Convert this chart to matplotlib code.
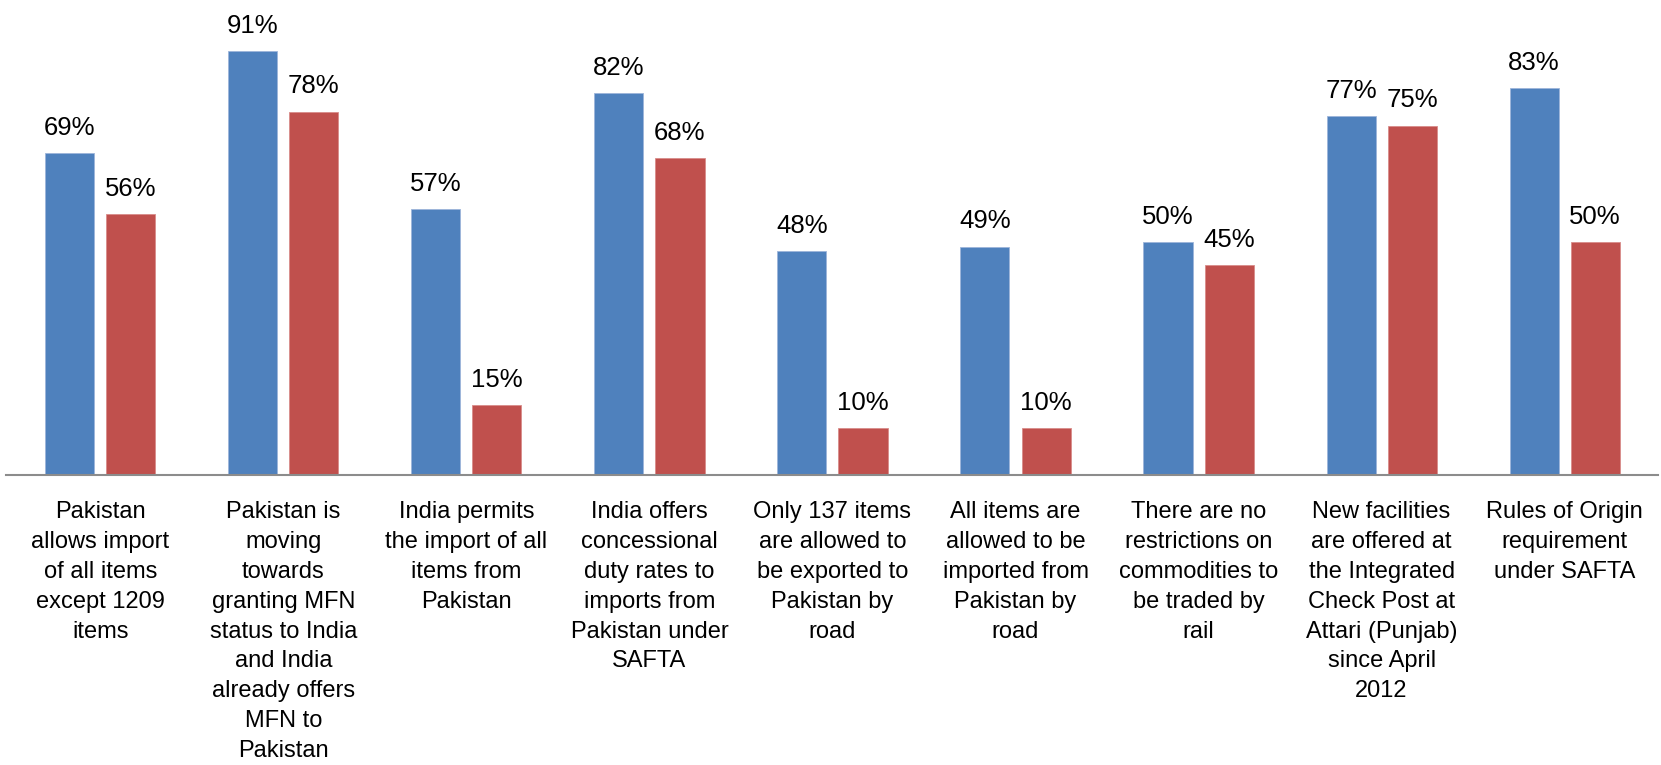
import matplotlib
matplotlib.use("Agg")
import matplotlib.pyplot as plt
import numpy as np

categories = [
    "Pakistan\nallows import\nof all items\nexcept 1209\nitems",
    "Pakistan is\nmoving\ntowards\ngranting MFN\nstatus to India\nand India\nalready offers\nMFN to\nPakistan",
    "India permits\nthe import of all\nitems from\nPakistan",
    "India offers\nconcessional\nduty rates to\nimports from\nPakistan under\nSAFTA",
    "Only 137 items\nare allowed to\nbe exported to\nPakistan by\nroad",
    "All items are\nallowed to be\nimported from\nPakistan by\nroad",
    "There are no\nrestrictions on\ncommodities to\nbe traded by\nrail",
    "New facilities\nare offered at\nthe Integrated\nCheck Post at\nAttari (Punjab)\nsince April\n2012",
    "Rules of Origin\nrequirement\nunder SAFTA",
]
series_blue = [69, 91, 57, 82, 48, 49, 50, 77, 83]
series_red = [56, 78, 15, 68, 10, 10, 45, 75, 50]

BLUE = "#4F81BD"
RED = "#C0504D"

W, H = 1661, 765
fig = plt.figure(figsize=(W / 100, H / 100), dpi=100)
ax = fig.add_axes([6 / W, 290 / H, 1652 / W, 466 / H])

x = np.arange(len(categories))
bw = 0.268
off = 0.167
b1 = ax.bar(x - off, series_blue, bw, color=BLUE, edgecolor="#9DB5DA", linewidth=0.6)
b2 = ax.bar(x + off, series_red, bw, color=RED, edgecolor="#D98C8A", linewidth=0.6)

for bars, vals in ((b1, series_blue), (b2, series_red)):
    for rect, v in zip(bars, vals):
        ax.annotate(f"{v}%", (rect.get_x() + rect.get_width() / 2, v),
                    xytext=(0, 9.5), textcoords="offset points",
                    ha="center", va="bottom", fontsize=18.5,
                    family=["Liberation Sans", "DejaVu Sans"], color="black")

ax.set_xlim(-0.515, len(categories) - 0.49)
ax.set_ylim(0, 100)
ax.set_yticks([])
ax.set_xticks(x)
ax.set_xticklabels(categories, fontsize=17, linespacing=1.46,
                   family=["Liberation Sans", "DejaVu Sans"])
ax.tick_params(axis="x", length=0, pad=19)
for s in ("top", "left", "right"):
    ax.spines[s].set_visible(False)
ax.spines["bottom"].set_color("#8C8C8C")
ax.spines["bottom"].set_linewidth(1.5)

fig.savefig("out.png", dpi=100, facecolor="white")
